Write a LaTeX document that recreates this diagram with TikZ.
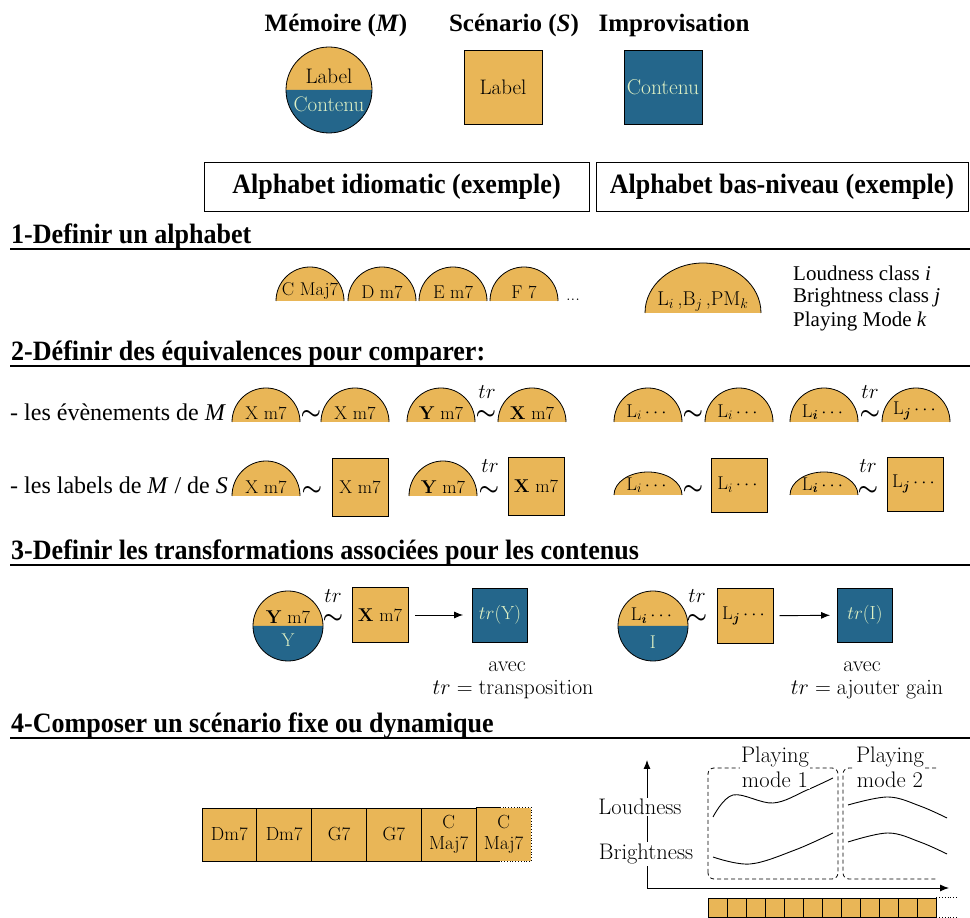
\RequirePackage{fix-cm}
\documentclass[tikz,border=0pt]{standalone}
\usepackage{graphicx}
\usepackage{amsmath}
\usepackage{bm}
\usepackage{fontspec}
\usetikzlibrary{arrows.meta}
\newfontfamily\tnr{Liberation Serif}
\definecolor{ocre}{RGB}{233,182,87}
\definecolor{bleu}{RGB}{36,102,139}
\definecolor{pale}{RGB}{222,240,196}
\newcommand\fs[2]{\fontsize{#1}{#2}\selectfont}
\newcommand\hd[1]{\scalebox{0.93}[1]{\tnr\bfseries\fs{28}{32}#1}}
\tikzset{
  edge/.style={line width=0.8pt, draw=black},
  rule/.style={line width=1.4pt},
  lbl/.style={font=\fs{18.5}{20}, inner sep=1pt},
  sq/.style={draw, line width=0.8pt, fill=ocre, minimum width=56pt, minimum height=56pt, inner sep=0pt, font=\fs{18.5}{20}},
  bsq/.style={sq, fill=bleu, text=pale},
  disc/.style={circle, draw, line width=0.8pt, inner sep=0pt},
  tld/.style={font=\fs{23}{23}, inner sep=0pt},
  trl/.style={font=\fs{21}{21}, inner sep=0pt},
  body/.style={font=\tnr\fs{24}{26}, inner sep=0pt},
  cls/.style={font=\tnr\fs{21}{22}, inner sep=0pt},
  htop/.style={font=\tnr\bfseries\fs{25}{28}, inner sep=0pt},
  abox/.style={draw, line width=0.8pt, minimum height=49pt, inner sep=0pt},
  avec/.style={font=\fs{22}{24}, inner sep=0pt},
  cell/.style={draw, fill=ocre, line width=0.8pt, minimum width=54.83pt, minimum height=53pt, inner sep=0pt, font=\fs{19}{21}, align=center},
  mini/.style={draw, fill=ocre, line width=0.8pt, minimum width=19pt, minimum height=19pt, inner sep=0pt},
  glbl/.style={font=\fs{22.5}{25}, inner sep=1.5pt, fill=white, align=center},
  arr/.style={line width=0.9pt, -{Latex[length=9pt,width=7pt]}},
  curve/.style={line width=0.9pt},
  dbox/.style={edge, dash pattern=on 4pt off 3pt, rounded corners=6pt}
}
\newcommand\halfdisc[6]{%
  \fill[ocre] ({#2-#4},#3) arc[start angle=180,end angle=0,x radius=#4,y radius=#5] -- cycle;
  \draw[edge] ({#2-#4},#3) arc[start angle=180,end angle=0,x radius=#4,y radius=#5];
  \node[lbl,anchor=south] (#1) at (#2,{#3+1}) {#6};}
\newcommand\splitfill[3]{%
  \fill[ocre] ({#1-#3},#2) arc[start angle=180,end angle=0,radius=#3] -- cycle;
  \fill[bleu] ({#1-#3},#2) arc[start angle=180,end angle=360,radius=#3] -- cycle;}
\begin{document}
\begin{tikzpicture}[x=1pt,y=1pt]
\useasboundingbox (0,0) rectangle (970,918);
\fill[white] (0,0) rectangle (970,918);

% ---------- legend ----------
\node[htop, anchor=base] (tM) at (336,886) {Mémoire (\textit{M})};
\node[htop, anchor=base] (tS) at (514,886) {Scénario (\textit{S})};
\node[htop, anchor=base] (tI) at (674,886) {Improvisation};
\splitfill{329}{828}{43}
\node[disc, minimum size=86pt] (mem) at (329,828) {};
\node[font=\fs{21}{21}, inner sep=0pt] (memL) at (329,842) {Label};
\node[font=\fs{21}{21}, inner sep=0pt, text=pale] (memC) at (329,814) {Contenu};
\node[sq, minimum width=78pt, minimum height=74pt, font=\fs{21}{21}] (scen) at (503,831) {Label};
\node[bsq, minimum width=78pt, minimum height=74pt, font=\fs{21.5}{21}] (impro) at (663,831) {Contenu};

% ---------- alphabet boxes ----------
\node[abox, minimum width=385pt] (alph1) at (396.5,731.5) {\hd{Alphabet idiomatic (exemple)}};
\node[abox, minimum width=372pt] (alph2) at (782,731.5) {\hd{Alphabet bas-niveau (exemple)}};

% ---------- section 1 ----------
\node[anchor=base west, inner sep=0pt] (h1) at (11,674) {\hd{1-Definir un alphabet}};
\draw[rule] (10,669) -- (970,669);
\halfdisc{a1}{310}{617}{34}{34}{C Maj7}
\halfdisc{a2}{382}{617}{34}{34}{D m7}
\halfdisc{a3}{453}{617}{34}{34}{E m7}
\halfdisc{a4}{524}{617}{34}{34}{F 7}
\node[lbl, anchor=base] (dots) at (573,617) {...};
\halfdisc{lb}{703}{605}{58}{50}{\fs{20}{22}L$_{i}$\,,B$_{j}$\,,PM$_{k}$}
\node[cls, anchor=west] (cl1) at (793,645) {Loudness class \textit{i}};
\node[cls, anchor=west] (cl2) at (793,621) {Brightness class \textit{j}};
\node[cls, anchor=west] (cl3) at (793,597) {Playing Mode \textit{k}};

% ---------- section 2 ----------
\node[anchor=base west, inner sep=0pt] (h2) at (11,557) {\hd{2-Définir des équivalences pour comparer:}};
\draw[rule] (10,552) -- (970,552);
\node[body, anchor=base west] (r1) at (10,497) {- les évènements de \textit{M}};
\halfdisc{e1}{266}{496}{34}{34}{X m7}
\halfdisc{e2}{355}{496}{34}{34}{X m7}
\halfdisc{e3}{441}{496}{34}{34}{\textbf{Y} m7}
\halfdisc{e4}{532}{496}{34}{34}{\textbf{X} m7}
\halfdisc{e5}{648}{496}{34}{34}{L$_{i}\cdots$}
\halfdisc{e6}{739}{496}{34}{34}{L$_{i}\cdots$}
\halfdisc{e7}{824}{496}{34}{34}{L$_{\bm i}\cdots$}
\halfdisc{e8}{916}{496}{34}{34}{L$_{\bm j}\cdots$}
\node[tld] (t1) at (311,503) {$\bm{\sim}$};
\node[tld] (t2) at (486,503) {$\bm{\sim}$};
\node[trl] (tr2) at (487,526) {$tr$};
\node[tld] (t3) at (693,503) {$\bm{\sim}$};
\node[tld] (t4) at (870,503) {$\bm{\sim}$};
\node[trl] (tr4) at (870,526) {$tr$};

\node[body, anchor=base west] (r2) at (10,424) {- les labels de \textit{M} / de \textit{S}};
\halfdisc{f1}{266}{422}{34}{35}{X m7}
\node[sq, minimum height=58pt] (g1) at (360,431) {X m7};
\halfdisc{f2}{443}{422}{34}{35}{\textbf{Y} m7}
\node[sq, minimum height=58pt] (g2) at (536,432) {\textbf{X} m7};
\halfdisc{f3}{648}{423}{34}{23}{L$_{i}\cdots$}
\node[sq, minimum height=54pt] (g3) at (739,433) {L$_{i}\cdots$};
\halfdisc{f4}{824}{423}{34}{23}{L$_{\bm i}\cdots$}
\node[sq, minimum height=54pt] (g4) at (915,434) {L$_{\bm j}\cdots$};
\node[tld] (u1) at (312,427) {$\bm{\sim}$};
\node[tld] (u2) at (489,427) {$\bm{\sim}$};
\node[trl] (tru2) at (490,452) {$tr$};
\node[tld] (u3) at (693,428) {$\bm{\sim}$};
\node[tld] (u4) at (868,427) {$\bm{\sim}$};
\node[trl] (tru4) at (868,452) {$tr$};

% ---------- section 3 ----------
\node[anchor=base west, inner sep=0pt] (h3) at (11,358) {\hd{3-Definir les transformations associées pour les contenus}};
\draw[rule] (10,353) -- (970,353);
\splitfill{288}{292}{35}
\node[disc, minimum size=70pt] (cY) at (288,292) {};
\node[lbl] (cYl) at (288,301) {\textbf{Y} m7};
\node[lbl, text=pale] (cYc) at (288,278) {Y};
\node[trl] (trY) at (333,322) {$tr$};
\node[tld] (tY) at (333,299) {$\bm{\sim}$};
\node[sq, minimum height=55pt] (sX) at (380,303) {\textbf{X} m7};
\node[bsq, minimum width=55pt, minimum height=54pt, font=\fs{19}{21}] (oY) at (500,303) {$tr$(Y)};
\draw[arr, shorten <=7pt, shorten >=9pt] (sX) -- (oY);
\node[avec] (av1) at (507,251) {avec};
\node[avec] (tp1) at (513,228) {$tr = \text{transposition}$};

\splitfill{653}{292}{35}
\node[disc, minimum size=70pt] (cI) at (653,292) {};
\node[lbl] (cIl) at (653,302) {L$_{\bm i}\cdots$};
\node[lbl, text=pale] (cIc) at (653,276) {I};
\node[trl] (trI) at (697,322) {$tr$};
\node[tld] (tI2) at (697,299) {$\bm{\sim}$};
\node[sq, minimum height=55pt] (sL) at (745,302) {L$_{\bm j}\cdots$};
\node[bsq, minimum width=55pt, minimum height=54pt, font=\fs{19}{21}] (oI) at (865,303) {$tr$(I)};
\draw[arr, shorten <=6pt, shorten >=7pt] (sL) -- (oI);
\node[avec] (av2) at (862,251) {avec};
\node[avec] (tp2) at (867,228) {$tr = \text{ajouter gain}$};

% ---------- section 4 ----------
\node[anchor=base west, inner sep=0pt] (h4) at (11,185) {\hd{4-Composer un scénario fixe ou dynamique}};
\draw[rule] (10,180) -- (970,180);
\node[cell, draw=none] (b6) at (503.6,83.5) {C\\Maj7};
\node[cell] (b1) at (229.4,83.5) {Dm7};
\node[cell] (b2) at (284.2,83.5) {Dm7};
\node[cell] (b3) at (339.1,83.5) {G7};
\node[cell] (b4) at (393.9,83.5) {G7};
\node[cell] (b5) at (448.7,83.5) {C\\Maj7};
\draw[edge] (b6.north west) -- ++(24,0) coordinate (b6t);
\draw[edge] (b6.south west) -- ++(24,0) coordinate (b6b);
\draw[edge, dotted] (b6t) -- (b6.north east) -- (b6.south east) -- (b6b);

% graph
\draw[curve] plot[smooth, tension=0.6] coordinates {(713,101) (733,123) (773,115) (807,128) (833,140)};
\draw[curve] plot[smooth, tension=0.6] coordinates {(713,61) (750,54) (795,68) (833,85)};
\draw[curve] plot[smooth, tension=0.6] coordinates {(848,113) (888,121) (920,112) (947,100)};
\draw[curve] plot[smooth, tension=0.6] coordinates {(848,76) (888,85) (920,76) (947,64)};
\draw[dbox] (708,39) rectangle (838,150);
\draw[dbox] (936,150) -- (843,150) -- (843,39) -- (936,39);
\coordinate (O) at (647,30);
\coordinate (Yt) at (647,158);
\coordinate (Xe) at (949,30);
\draw[arr] (O) -- (Yt);
\draw[arr] (O) -- (Xe);
\node[glbl] (loud) at (640,111) {Loudness};
\node[glbl] (bright) at (646,64) {Brightness};
\node[glbl] (pm1) at (775,151) {Playing\\mode 1};
\node[glbl] (pm2) at (890,151) {Playing\\mode 2};
\foreach \i in {0,...,11} \node[mini] (m\i) at ({717.5+19*\i},10.5) {};
\draw[edge, dotted] (m11.north east) -- ++(22,0);
\draw[edge, dotted] (m11.south east) -- ++(22,0);
\end{tikzpicture}
\end{document}
